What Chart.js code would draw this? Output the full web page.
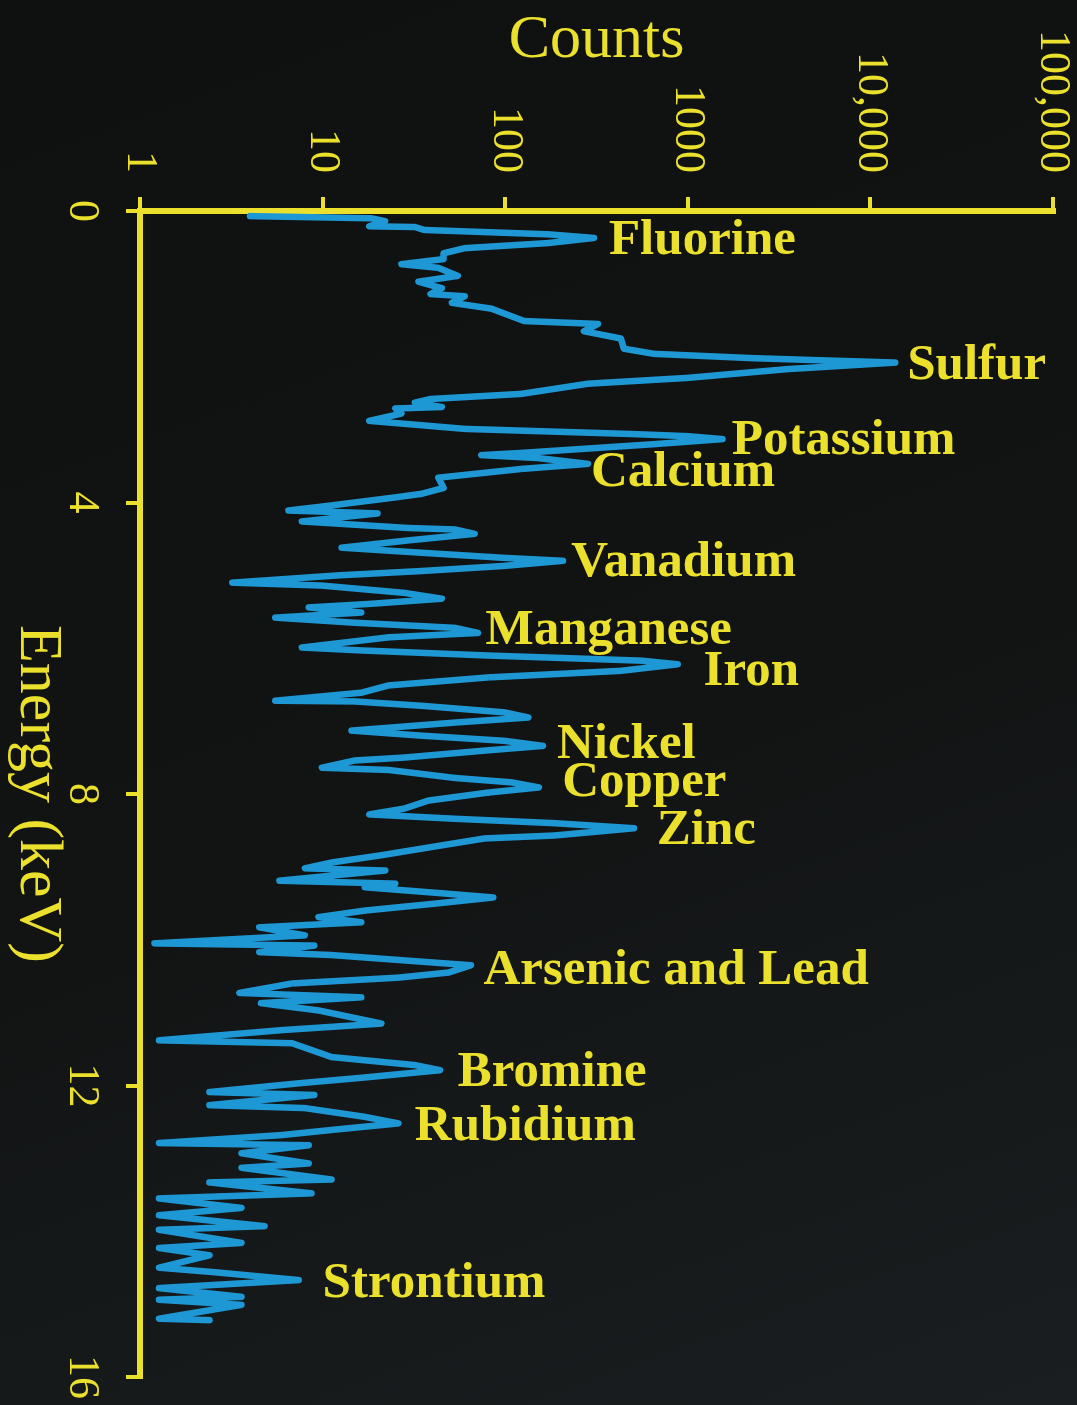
<!DOCTYPE html>
<html>
<head>
<meta charset="utf-8">
<script src="https://cdn.jsdelivr.net/npm/chart.js@4.4.1/dist/chart.umd.min.js"></script>
<style>
  html, body { margin: 0; padding: 0; }
  body {
    width: 1077px; height: 1405px; overflow: hidden; position: relative;
    background: linear-gradient(160deg, #0f1010 0%, #121414 55%, #1a1e20 100%);
  }
  /* the chart is laid out like a normal spectrum and turned a quarter turn clockwise */
  #wrap {
    position: absolute; left: 0; top: 0; width: 1405px; height: 1077px;
    transform-origin: 0 0; transform: translate(1077px, 0) rotate(90deg);
  }
</style>
</head>
<body>
<div id="wrap"><canvas id="spectrum" width="1405" height="1077"></canvas></div>
<script>
// axis ticks
const energyTicks = [0, 4, 8, 12, 16];
const countTicks = [1, 10, 100, 1000, 10000, 100000];
const countTickLabels = ["1", "10", "100", "1000", "10,000", "100,000"];

// spectrum, energy in keV and counts per channel
const energy = [
  0.07, 0.10, 0.14, 0.21, 0.22, 0.26, 0.32, 0.37, 0.44, 0.51,
  0.58, 0.66, 0.73, 0.78, 0.89, 0.97, 1.06, 1.14, 1.17, 1.26,
  1.34, 1.51, 1.55, 1.65, 1.75, 1.89, 1.96, 2.02, 2.08, 2.17,
  2.29, 2.37, 2.51, 2.58, 2.63, 2.69, 2.71, 2.78, 2.88, 2.92,
  2.99, 3.06, 3.09, 3.13, 3.20, 3.32, 3.35, 3.39, 3.47, 3.54,
  3.66, 3.80, 3.88, 3.93, 4.04, 4.11, 4.15, 4.26, 4.35, 4.37,
  4.43, 4.52, 4.62, 4.69, 4.76, 4.80, 4.87, 4.94, 5.00, 5.10,
  5.14, 5.24, 5.32, 5.39, 5.44, 5.51, 5.58, 5.65, 5.72, 5.79,
  5.85, 5.99, 6.03, 6.10, 6.17, 6.22, 6.31, 6.40, 6.51, 6.61,
  6.72, 6.73, 6.79, 6.88, 6.95, 7.02, 7.13, 7.20, 7.27, 7.34,
  7.40, 7.50, 7.54, 7.64, 7.67, 7.78, 7.84, 7.91, 7.98, 8.09,
  8.20, 8.28, 8.34, 8.40, 8.47, 8.57, 8.61, 8.73, 8.84, 8.94,
  9.02, 9.05, 9.12, 9.19, 9.23, 9.28, 9.35, 9.42, 9.50, 9.60,
  9.69, 9.76, 9.83, 9.94, 10.05, 10.08, 10.17, 10.21, 10.31, 10.35,
  10.45, 10.52, 10.60, 10.73, 10.79, 10.87, 10.97, 11.15, 11.24, 11.38,
  11.42, 11.61, 11.72, 11.79, 11.89, 11.97, 12.09, 12.13, 12.27, 12.31,
  12.43, 12.52, 12.61, 12.68, 12.79, 12.82, 12.93, 13.07, 13.13, 13.29,
  13.33, 13.48, 13.55, 13.68, 13.78, 13.93, 13.98, 14.16, 14.23, 14.33,
  14.50, 14.56, 14.67, 14.78, 14.90, 14.94, 15.01, 15.20, 15.22
];
const counts = [
  4.0, 18.5, 22, 18, 32, 36, 172, 306, 172, 60,
  46, 46, 27, 43, 55, 33.5, 45, 39, 60, 51,
  84, 127, 322, 270, 430, 447, 652, 2300, 13700, 3500,
  1000, 284, 122, 39, 32, 45, 25, 27, 18, 28,
  60, 488, 1000, 1550, 650, 122, 74, 151, 284, 122,
  43, 46, 35, 25, 11.2, 6.5, 20, 7.7, 29.5, 53,
  68, 29.5, 12.7, 35, 99, 207, 99, 35, 12.2, 3.2,
  9.9, 28, 45, 18.5, 8.4, 16.3, 5.5, 15, 53, 71,
  23, 7.7, 16.3, 81, 553, 880, 430, 81, 23, 16.3,
  5.5, 15, 35, 99, 134, 53, 14.4, 35, 99, 161,
  81, 28, 15, 9.9, 23, 53, 108, 153, 81, 38,
  28, 18, 53, 185, 507, 185, 77, 39, 21, 11.2,
  8, 22, 11.2, 5.8, 25, 17, 39, 86, 43, 17,
  9.5, 16.3, 4.5, 8, 1.2, 9, 4.5, 11.2, 39, 65,
  49, 26, 6.8, 3.5, 16.3, 4.6, 9.5, 21, 6, 1.27,
  6.8, 11.2, 32, 44, 17, 7.4, 2.4, 9, 2.4, 8,
  17, 26, 11.2, 6, 1.27, 8.4, 3.6, 8.4, 3.6, 11.2,
  2.4, 8.7, 1.27, 3.6, 1.27, 4.8, 1.27, 3.6, 1.27, 2.4,
  1.27, 2.5, 7.4, 1.27, 3.6, 1.27, 3.6, 1.27, 2.4
];

// element labels: name, energy of the line, count where the text starts
const peakNames = ["Fluorine", "Sulfur", "Potassium", "Calcium", "Vanadium", "Manganese", "Iron",
  "Nickel", "Copper", "Zinc", "Arsenic and Lead", "Bromine", "Rubidium", "Strontium"];
const peakEnergy = [0.41, 2.13, 3.15, 3.59, 4.83, 5.76, 6.33, 7.32, 7.84, 8.5, 10.42, 11.82, 12.57, 14.72];
const peakLabelAt = [370, 15900, 1740, 295, 230, 78, 1220, 192, 205, 676, 76, 55, 32, 10];

const YELLOW = "#ebe12c";
const BLUE = "#1e98d4";
Chart.defaults.font.family = "'Liberation Serif', 'Times New Roman', serif";

const peakLabels = {
  id: "peakLabels",
  afterDatasetsDraw(chart) {
    const ctx = chart.ctx;
    const xs = chart.scales.x, ys = chart.scales.y;
    ctx.save();
    ctx.fillStyle = YELLOW;
    ctx.font = "bold 51px 'Liberation Serif', serif";
    ctx.textAlign = "left";
    ctx.textBaseline = "middle";
    peakNames.forEach((name, i) => {
      ctx.save();
      ctx.translate(xs.getPixelForValue(peakEnergy[i]), ys.getPixelForValue(peakLabelAt[i]));
      ctx.rotate(-Math.PI / 2);
      ctx.fillText(name, 0, 0);
      ctx.restore();
    });
    ctx.restore();
  }
};

new Chart(document.getElementById("spectrum"), {
  type: "line",
  data: {
    datasets: [{
      data: energy.map((e, i) => ({ x: e, y: counts[i] })),
      borderColor: BLUE,
      borderWidth: 6.5,
      pointRadius: 0,
      tension: 0,
      borderJoinStyle: "round",
      borderCapStyle: "round"
    }]
  },
  options: {
    responsive: false,
    animation: false,
    devicePixelRatio: 1,
    layout: { padding: { top: 24, right: 28, bottom: 0, left: 0 } },
    plugins: { legend: { display: false }, tooltip: { enabled: false } },
    scales: {
      x: {
        type: "linear", min: 0, max: 16,
        afterBuildTicks: s => { s.ticks = energyTicks.map(v => ({ value: v })); },
        afterFit: s => { s.height = 140; s.paddingLeft = 0; s.paddingRight = 0; },
        grid: { drawOnChartArea: false, color: YELLOW, lineWidth: 4, tickLength: 14 },
        border: { color: YELLOW, width: 6 },
        ticks: { color: YELLOW, font: { size: 44 }, padding: 18, maxRotation: 0, autoSkip: false },
        title: { display: true, text: "Energy (keV)", color: YELLOW, font: { size: 62 }, padding: 0 }
      },
      y: {
        type: "logarithmic", min: 1, max: 100000,
        afterBuildTicks: s => { s.ticks = countTicks.map(v => ({ value: v })); },
        afterFit: s => { s.width = 211; s.paddingTop = 0; s.paddingBottom = 0; },
        grid: { drawOnChartArea: false, color: YELLOW, lineWidth: 4, tickLength: 14 },
        border: { color: YELLOW, width: 6 },
        ticks: {
          color: YELLOW, font: { size: 44 }, padding: 24, autoSkip: false,
          callback: (v, i) => countTickLabels[i]
        },
        title: { display: true, text: "Counts", color: YELLOW, font: { size: 62 }, padding: { top: 4, bottom: 0 } }
      }
    }
  },
  plugins: [peakLabels]
});
</script>
</body>
</html>
